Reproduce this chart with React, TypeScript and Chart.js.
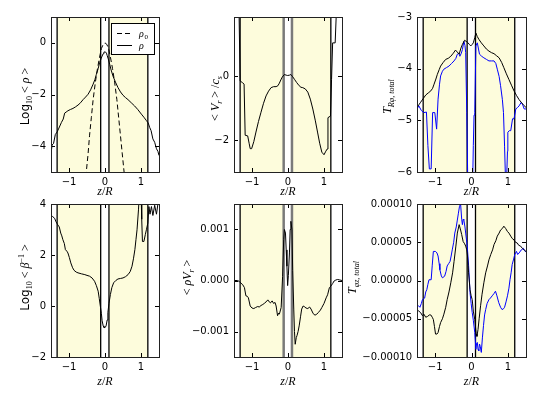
import React, { useEffect, useRef } from "react";
import { Chart, registerables } from "chart.js";
Chart.register(...registerables);

// ---------- data ----------
const X_TICKS = [-1, 0, 1];
const SHADE_BANDS = [[-1.33, -0.12], [0.11, 1.19]];
const V_LINES = [-1.33, -0.12, 0.11, 1.19];

const RHO: number[][] = [[-1.5,-4.3],[-1.47,-3.95],[-1.43,-3.9],[-1.38,-3.55],[-1.33,-3.45],[-1.28,-3.3],[-1.21,-3.08],[-1.16,-2.95],[-1.12,-2.72],[-1.08,-2.68],[-1.03,-2.63],[-0.96,-2.58],[-0.89,-2.54],[-0.82,-2.48],[-0.75,-2.41],[-0.68,-2.32],[-0.61,-2.2],[-0.54,-2.1],[-0.47,-1.99],[-0.4,-1.82],[-0.33,-1.6],[-0.28,-1.42],[-0.24,-1.22],[-0.19,-1.0],[-0.15,-0.77],[-0.11,-0.62],[-0.08,-0.51],[-0.05,-0.42],[-0.03,-0.36],[0.01,-0.35],[0.04,-0.4],[0.06,-0.49],[0.09,-0.62],[0.13,-0.83],[0.17,-1.05],[0.22,-1.28],[0.29,-1.52],[0.36,-1.73],[0.43,-1.9],[0.5,-2.03],[0.57,-2.12],[0.64,-2.2],[0.73,-2.32],[0.82,-2.44],[0.91,-2.58],[1.01,-2.76],[1.08,-2.88],[1.15,-3.01],[1.2,-3.1],[1.24,-3.27],[1.28,-3.4],[1.33,-3.72],[1.38,-3.85],[1.43,-4.1],[1.47,-4.2],[1.5,-4.36]];
const RHO0: number[][] = [[-0.55,-5.5],[-0.52,-5],[-0.47,-4.3],[-0.43,-3.6],[-0.38,-2.9],[-0.33,-2.2],[-0.27,-1.55],[-0.21,-1.0],[-0.15,-0.55],[-0.1,-0.22],[-0.05,-0.06],[0,0],[0.05,-0.06],[0.1,-0.22],[0.15,-0.55],[0.21,-1.0],[0.27,-1.55],[0.33,-2.2],[0.38,-2.9],[0.43,-3.6],[0.48,-4.3],[0.53,-5],[0.56,-5.5]];

const VR: number[][] = [[-1.5,4],[-1.36,2.0],[-1.33,-0.15],[-1.27,-0.2],[-1.22,-0.25],[-1.19,-1.85],[-1.12,-1.87],[-1.08,-2.1],[-1.05,-2.27],[-1.01,-2.27],[-0.95,-2.05],[-0.89,-1.75],[-0.82,-1.42],[-0.75,-1.13],[-0.68,-0.85],[-0.61,-0.62],[-0.54,-0.47],[-0.47,-0.36],[-0.4,-0.33],[-0.33,-0.33],[-0.28,-0.3],[-0.24,-0.22],[-0.2,-0.12],[-0.16,-0.03],[-0.1,0.05],[-0.05,0.03],[-0.01,0.02],[0.04,0.03],[0.08,0.05],[0.13,-0.02],[0.18,-0.1],[0.24,-0.2],[0.31,-0.3],[0.36,-0.35],[0.41,-0.36],[0.48,-0.4],[0.55,-0.5],[0.62,-0.72],[0.69,-1.03],[0.76,-1.4],[0.82,-1.75],[0.88,-2.1],[0.94,-2.38],[1.0,-2.46],[1.05,-2.35],[1.09,-2.28],[1.11,-1.3],[1.18,-1.25],[1.21,-0.1],[1.24,1.04],[1.31,1.04],[1.34,1.9],[1.38,4]];

const TR_TOTAL: number[][] = [[-1.5,-4.75],[-1.45,-4.7],[-1.4,-4.65],[-1.33,-4.58],[-1.26,-4.51],[-1.19,-4.47],[-1.12,-4.43],[-1.07,-4.38],[-1.03,-4.3],[-0.98,-4.2],[-0.94,-4.11],[-0.89,-4.02],[-0.85,-3.95],[-0.78,-3.88],[-0.71,-3.82],[-0.64,-3.8],[-0.57,-3.76],[-0.5,-3.7],[-0.44,-3.64],[-0.39,-3.68],[-0.34,-3.72],[-0.29,-3.6],[-0.25,-3.53],[-0.19,-3.45],[-0.15,-3.47],[-0.11,-3.49],[-0.06,-3.53],[-0.02,-3.56],[0.02,-3.53],[0.05,-3.5],[0.09,-3.4],[0.12,-3.31],[0.16,-3.38],[0.21,-3.44],[0.27,-3.5],[0.34,-3.56],[0.41,-3.62],[0.48,-3.66],[0.55,-3.69],[0.62,-3.71],[0.69,-3.75],[0.76,-3.79],[0.83,-3.88],[0.89,-3.98],[0.96,-4.1],[1.03,-4.21],[1.1,-4.32],[1.17,-4.43],[1.24,-4.52],[1.31,-4.6],[1.38,-4.66],[1.44,-4.71],[1.5,-4.75]];
const TR_BLUE: number[][] = [[-1.5,-4.78],[-1.45,-4.72],[-1.38,-4.81],[-1.31,-4.85],[-1.24,-4.84],[-1.2,-5.49],[-1.16,-5.94],[-1.11,-5.94],[-1.07,-4.85],[-1.01,-4.85],[-0.96,-5.17],[-0.92,-4.59],[-0.88,-4.3],[-0.85,-4.14],[-0.8,-4.05],[-0.76,-4.01],[-0.69,-3.98],[-0.62,-3.95],[-0.55,-3.9],[-0.48,-3.85],[-0.43,-3.8],[-0.39,-3.72],[-0.35,-3.7],[-0.32,-3.76],[-0.28,-3.7],[-0.25,-3.63],[-0.21,-3.47],[-0.18,-3.55],[-0.16,-3.69],[-0.13,-4.85],[-0.1,-6.3],[-0.05,-6.5],[0,-6.5],[0.03,-6.3],[0.05,-5.49],[0.07,-4.9],[0.09,-4.85],[0.12,-3.56],[0.16,-3.5],[0.22,-3.72],[0.28,-3.76],[0.34,-3.79],[0.41,-3.82],[0.48,-3.85],[0.55,-3.85],[0.62,-3.85],[0.67,-3.9],[0.71,-4.01],[0.76,-4.15],[0.8,-4.33],[0.85,-4.6],[0.88,-4.85],[0.91,-5.5],[0.93,-6],[0.96,-6.3],[0.99,-5.6],[1.0,-5.23],[1.04,-5.2],[1.08,-5.2],[1.13,-4.97],[1.17,-4.97],[1.22,-4.78],[1.27,-4.75],[1.31,-4.72],[1.37,-4.65],[1.41,-4.7],[1.45,-4.78],[1.5,-4.78]];

const BETA: number[][] = [[-1.5,3.57],[-1.45,3.5],[-1.4,3.44],[-1.36,3.3],[-1.31,3.18],[-1.27,3.1],[-1.23,2.86],[-1.2,2.75],[-1.17,2.6],[-1.13,2.45],[-1.1,2.21],[-1.06,2.15],[-1.03,2.08],[-0.99,1.9],[-0.95,1.69],[-0.9,1.5],[-0.86,1.4],[-0.8,1.33],[-0.75,1.3],[-0.65,1.26],[-0.56,1.23],[-0.5,1.2],[-0.43,1.17],[-0.36,1.1],[-0.29,0.97],[-0.24,0.8],[-0.19,0.58],[-0.16,0.3],[-0.13,0.0],[-0.1,-0.3],[-0.08,-0.58],[-0.05,-0.78],[-0.03,-0.84],[0.0,-0.85],[0.03,-0.78],[0.06,-0.55],[0.08,-0.26],[0.11,0.1],[0.15,0.45],[0.19,0.72],[0.24,0.91],[0.3,1.0],[0.36,1.06],[0.43,1.08],[0.5,1.1],[0.57,1.15],[0.64,1.23],[0.7,1.35],[0.75,1.56],[0.79,1.85],[0.83,2.21],[0.86,2.6],[0.89,2.99],[0.93,3.77],[0.95,4.3],[1.0,4.5],[1.02,3.4],[1.04,2.53],[1.08,2.53],[1.12,2.8],[1.15,2.99],[1.19,3.25],[1.22,3.9],[1.25,3.6],[1.29,3.9],[1.33,3.55],[1.38,3.95],[1.43,3.6],[1.47,4.0],[1.5,4.3]];

const RHOVR: number[][] = [[-1.5,0.0],[-1.4,0.0],[-1.35,-0.00002],[-1.31,-0.00005],[-1.26,-0.00008],[-1.21,-0.00014],[-1.17,-0.0003],[-1.13,-0.00031],[-1.1,-0.00034],[-1.05,-0.0005],[-1.0,-0.00054],[-0.95,-0.00055],[-0.9,-0.00053],[-0.84,-0.00051],[-0.8,-0.00052],[-0.75,-0.00049],[-0.7,-0.00047],[-0.66,-0.00045],[-0.61,-0.00042],[-0.56,-0.00038],[-0.52,-0.00042],[-0.49,-0.00044],[-0.44,-0.0004],[-0.4,-0.00045],[-0.36,-0.00043],[-0.33,-0.0005],[-0.29,-0.00069],[-0.26,-0.00064],[-0.24,-0.00066],[-0.19,-0.00053],[-0.15,0.00008],[-0.12,0.0008],[-0.1,0.001],[-0.07,0.00093],[-0.05,0.0006],[-0.03,0.00028],[-0.01,-0.0001],[0.01,0.0001],[0.04,0.00054],[0.06,0.001],[0.08,0.00116],[0.11,0.001],[0.13,0.0002],[0.16,-0.00056],[0.18,-0.001],[0.2,-0.00125],[0.23,-0.00112],[0.25,-0.00108],[0.28,-0.001],[0.31,-0.00089],[0.35,-0.0007],[0.38,-0.00056],[0.42,-0.0005],[0.45,-0.00051],[0.5,-0.00054],[0.55,-0.00055],[0.6,-0.00052],[0.64,-0.00056],[0.7,-0.00065],[0.75,-0.00068],[0.8,-0.00066],[0.84,-0.00063],[0.9,-0.00058],[0.94,-0.00053],[1.0,-0.00045],[1.06,-0.00034],[1.1,-0.00028],[1.15,-0.00014],[1.19,-0.00011],[1.24,-0.00006],[1.28,-0.00001],[1.33,0.00001],[1.38,0.00002],[1.44,0.00001],[1.5,0.0]];

const TPZ_TOTAL: number[][] = [[-1.5,-0.000038],[-1.45,-0.00004],[-1.4,-0.000042],[-1.35,-0.000046],[-1.31,-0.000044],[-1.26,-0.000048],[-1.21,-0.000047],[-1.16,-0.000045],[-1.12,-0.000045],[-1.08,-0.000048],[-1.05,-0.000051],[-1.02,-0.00006],[-0.99,-0.00007],[-0.95,-0.00007],[-0.92,-0.000068],[-0.88,-0.00006],[-0.85,-0.000055],[-0.8,-0.00005],[-0.76,-0.000044],[-0.71,-0.000035],[-0.67,-0.000025],[-0.62,-0.000015],[-0.57,-0.000003],[-0.52,0.00001],[-0.48,0.000025],[-0.43,0.000045],[-0.39,0.000062],[-0.34,0.000073],[-0.3,0.000066],[-0.27,0.00006],[-0.23,0.000051],[-0.19,0.000048],[-0.16,0.000045],[-0.13,0.00004],[-0.11,0.000032],[-0.08,0.00001],[-0.04,-0.000012],[-0.01,-0.00002],[0.02,-0.000025],[0.05,-0.00004],[0.09,-0.000051],[0.13,-0.00007],[0.15,-0.000073],[0.18,-0.000064],[0.21,-0.00005],[0.25,-0.000033],[0.29,-0.000018],[0.34,-0.000003],[0.39,0.00001],[0.44,0.000019],[0.48,0.000027],[0.53,0.000034],[0.58,0.00004],[0.62,0.000047],[0.67,0.000052],[0.71,0.000058],[0.76,0.000062],[0.8,0.000066],[0.85,0.000068],[0.89,0.000071],[0.94,0.000068],[0.99,0.000064],[1.03,0.000062],[1.08,0.000058],[1.12,0.000055],[1.17,0.000053],[1.21,0.00005],[1.26,0.000049],[1.3,0.000046],[1.35,0.000045],[1.4,0.000042],[1.45,0.00004],[1.5,0.000038]];
const TPZ_BLUE: number[][] = [[-1.5,-0.000032],[-1.46,-0.000033],[-1.42,-0.000035],[-1.38,-0.00003],[-1.35,-0.000025],[-1.29,-0.000023],[-1.26,-0.000015],[-1.23,-0.000012],[-1.2,-0.000005],[-1.17,0.000001],[-1.11,0.000001],[-1.08,0.00002],[-1.05,0.000038],[-0.99,0.000038],[-0.95,0.000036],[-0.92,0.000032],[-0.89,0.000022],[-0.87,0.000014],[-0.83,0.000006],[-0.8,0.0000035],[-0.74,0.0000056],[-0.7,0.000012],[-0.67,0.000019],[-0.63,0.000022],[-0.59,0.000025],[-0.56,0.000032],[-0.53,0.00004],[-0.49,0.00005],[-0.46,0.000062],[-0.42,0.00007],[-0.39,0.000079],[-0.36,0.000088],[-0.33,0.000097],[-0.3,0.0001],[-0.27,0.00008],[-0.25,0.000073],[-0.23,0.00008],[-0.21,0.000079],[-0.18,0.00007],[-0.16,0.000062],[-0.13,0.00005],[-0.11,0.00004],[-0.08,0.00002],[-0.04,-0.000016],[-0.01,-0.00003],[0.02,-0.000042],[0.05,-0.000052],[0.09,-0.000068],[0.12,-0.00009],[0.14,-0.000082],[0.16,-0.000081],[0.18,-0.00009],[0.2,-0.000092],[0.22,-0.000083],[0.24,-0.000086],[0.27,-0.000094],[0.3,-0.000075],[0.33,-0.000059],[0.36,-0.000045],[0.39,-0.000038],[0.43,-0.00003],[0.48,-0.000025],[0.52,-0.000023],[0.57,-0.00002],[0.62,-0.000017],[0.66,-0.000014],[0.7,-0.00002],[0.75,-0.000029],[0.8,-0.000035],[0.84,-0.000038],[0.88,-0.000037],[0.91,-0.000035],[0.95,-0.000028],[0.99,-0.00002],[1.03,-0.00001],[1.06,0.000001],[1.09,0.00001],[1.12,0.000021],[1.16,0.000028],[1.19,0.000034],[1.24,0.000038],[1.27,0.000034],[1.31,0.000036],[1.37,0.00004],[1.43,0.000042],[1.46,0.000039],[1.5,0.000037]];

const Y_TICKS_RHO = [0, -2, -4];
const Y_TICKS_VR = [0, -2];
const Y_TICKS_TR = [-3, -4, -5, -6];
const Y_TICKS_BETA = [4, 2, 0, -2];
const Y_TICKS_RHOVR = [0.001, 0, -0.001];
const Y_TICKS_TPZ = [0.0001, 0.00005, 0, -0.00005, -0.0001];

// ---------- styling ----------
const SHADE_COLOR = "#fdfcdc";
const SANS = '"DejaVu Sans"';
const SERIF = '"Liberation Serif"';
const fIt = (s: number) => `italic ${s}px ${SERIF}`;
const fRm = (s: number) => `${s}px ${SERIF}`;
const fSans = (s: number) => `${s}px ${SANS}`;

type Seg = { t: string; f: string; dy?: number };

const fmt = (v: number, d: number) => {
  const s = Math.abs(v) < 1e-12 ? (0).toFixed(d) : v.toFixed(d);
  return s.replace("-", "\u2212");
};

function drawRich(ctx: CanvasRenderingContext2D, segs: Seg[], cx: number, cy: number, rot: boolean) {
  ctx.save();
  ctx.translate(cx, cy);
  if (rot) ctx.rotate(-Math.PI / 2);
  let total = 0;
  const ws = segs.map((s) => {
    ctx.font = s.f;
    const w = ctx.measureText(s.t).width;
    total += w;
    return w;
  });
  let x = -total / 2;
  ctx.textAlign = "left";
  ctx.textBaseline = "alphabetic";
  ctx.fillStyle = "#000";
  segs.forEach((s, i) => {
    ctx.font = s.f;
    ctx.fillText(s.t, x, 4 + (s.dy || 0));
    x += ws[i];
  });
  ctx.restore();
}

type Series = { label: string; pts: number[][]; color: string; dash?: number[] };
type Panel = {
  left: number; top: number; w: number; h: number;
  yMin: number; yMax: number; yTicks: number[]; yDec: number;
  series: Series[];
  ylabel: Seg[]; ylabelX: number; ylabelDy: number; xlabelDy: number;
  greyInner?: boolean; legend?: boolean;
};

const L = 80, T = 10, R = 10, B = 40;

const XLABEL: Seg[] = [
  { t: "z", f: fIt(12) },
  { t: "/", f: fRm(12) },
  { t: "R", f: fIt(12) },
];

const PANELS: Panel[] = [
  {
    left: 51, top: 16, w: 108, h: 156, yMin: -5, yMax: 1, yTicks: Y_TICKS_RHO, yDec: 0,
    series: [
      { label: "ρ0", pts: RHO0, color: "#000", dash: [5, 3] },
      { label: "ρ", pts: RHO, color: "#000" },
    ],
    ylabel: [
      { t: "Log", f: fSans(12) },
      { t: "10", f: fRm(8), dy: 3 },
      { t: " < ", f: fRm(12) },
      { t: "ρ", f: fIt(12) },
      { t: " >", f: fRm(12) },
    ],
    ylabelX: 25, ylabelDy: 2, xlabelDy: 19, legend: true,
  },
  {
    left: 234, top: 16, w: 108, h: 156, yMin: -3, yMax: 1.85, yTicks: Y_TICKS_VR, yDec: 0,
    series: [{ label: "Vr", pts: VR, color: "#000" }],
    ylabel: [
      { t: "< ", f: fRm(12) },
      { t: "V", f: fIt(12) },
      { t: "r", f: fIt(8), dy: 3 },
      { t: " > /", f: fRm(12) },
      { t: "c", f: fIt(12) },
      { t: "s", f: fIt(8), dy: 3 },
    ],
    ylabelX: 215, ylabelDy: 4, xlabelDy: 19, greyInner: true,
  },
  {
    left: 417, top: 16, w: 109, h: 156, yMin: -6, yMax: -3, yTicks: Y_TICKS_TR, yDec: 0,
    series: [
      { label: "total", pts: TR_TOTAL, color: "#000" },
      { label: "part", pts: TR_BLUE, color: "#0000ff" },
    ],
    ylabel: [
      { t: "T", f: fIt(12) },
      { t: "Rφ, total", f: fIt(8), dy: 3 },
    ],
    ylabelX: 387, ylabelDy: 2, xlabelDy: 19,
  },
  {
    left: 51, top: 203, w: 108, h: 154, yMin: -2, yMax: 4, yTicks: Y_TICKS_BETA, yDec: 0,
    series: [{ label: "beta", pts: BETA, color: "#000" }],
    ylabel: [
      { t: "Log", f: fSans(12) },
      { t: "10", f: fRm(8), dy: 3 },
      { t: " < ", f: fRm(12) },
      { t: "β", f: fIt(12) },
      { t: "−1", f: fRm(8), dy: -5 },
      { t: " >", f: fRm(12) },
    ],
    ylabelX: 25, ylabelDy: -3, xlabelDy: 24,
  },
  {
    left: 234, top: 203, w: 108, h: 154, yMin: -0.0015, yMax: 0.0015, yTicks: Y_TICKS_RHOVR, yDec: 3,
    series: [{ label: "rhoVr", pts: RHOVR, color: "#000" }],
    ylabel: [
      { t: "< ", f: fRm(12) },
      { t: "ρV", f: fIt(12) },
      { t: "r", f: fIt(8), dy: 3 },
      { t: " >", f: fRm(12) },
    ],
    ylabelX: 187, ylabelDy: -3, xlabelDy: 24, greyInner: true,
  },
  {
    left: 417, top: 203, w: 109, h: 154, yMin: -0.0001, yMax: 0.0001, yTicks: Y_TICKS_TPZ, yDec: 5,
    series: [
      { label: "total", pts: TPZ_TOTAL, color: "#000" },
      { label: "part", pts: TPZ_BLUE, color: "#0000ff" },
    ],
    ylabel: [
      { t: "T", f: fIt(12) },
      { t: "φz, total", f: fIt(8), dy: 3 },
    ],
    ylabelX: 352, ylabelDy: -3, xlabelDy: 24,
  },
];

function makePlugin(p: Panel) {
  const canvasLeft = p.left - L;
  return {
    id: "panelDeco",
    beforeDatasetsDraw(chart: any) {
      const { ctx, chartArea: ca, scales } = chart;
      const x = scales.x;
      ctx.save();
      ctx.fillStyle = SHADE_COLOR;
      for (const [a, b] of SHADE_BANDS) {
        const x1 = x.getPixelForValue(a);
        const x2 = x.getPixelForValue(b);
        ctx.fillRect(x1, ca.top, x2 - x1, ca.bottom - ca.top);
      }
      V_LINES.forEach((v, i) => {
        const inner = i === 1 || i === 2;
        const grey = p.greyInner && inner;
        ctx.strokeStyle = grey ? "#7a7a7a" : "#000";
        ctx.lineWidth = grey ? 2.5 : 1.3;
        const px = x.getPixelForValue(v);
        ctx.beginPath();
        ctx.moveTo(px, ca.top);
        ctx.lineTo(px, ca.bottom);
        ctx.stroke();
      });
      ctx.restore();
    },
    afterDraw(chart: any) {
      const { ctx, chartArea: ca, scales } = chart;
      const x = scales.x, y = scales.y;
      ctx.save();
      ctx.strokeStyle = "#000";
      ctx.lineWidth = 1;
      ctx.beginPath();
      for (const v of X_TICKS) {
        const px = Math.round(x.getPixelForValue(v)) + 0.5;
        ctx.moveTo(px, ca.bottom);
        ctx.lineTo(px, ca.bottom - 4);
        ctx.moveTo(px, ca.top);
        ctx.lineTo(px, ca.top + 4);
      }
      for (const v of p.yTicks) {
        const py = Math.round(y.getPixelForValue(v)) + 0.5;
        ctx.moveTo(ca.left, py);
        ctx.lineTo(ca.left + 4, py);
        ctx.moveTo(ca.right, py);
        ctx.lineTo(ca.right - 4, py);
      }
      ctx.stroke();
      ctx.strokeStyle = "#222";
      ctx.lineWidth = 1;
      ctx.strokeRect(Math.round(ca.left) + 0.5, Math.round(ca.top) + 0.5, Math.round(ca.right - ca.left), Math.round(ca.bottom - ca.top));
      drawRich(ctx, XLABEL, (ca.left + ca.right) / 2, ca.bottom + p.xlabelDy, false);
      drawRich(ctx, p.ylabel, p.ylabelX - canvasLeft, (ca.top + ca.bottom) / 2 + p.ylabelDy, true);
      if (p.legend) {
        const x0 = ca.right - 48, y0 = ca.top + 6, w = 43, h = 31;
        ctx.fillStyle = "#fff";
        ctx.fillRect(x0, y0, w, h);
        ctx.strokeStyle = "#000";
        ctx.strokeRect(Math.round(x0) + 0.5, Math.round(y0) + 0.5, w, h);
        p.series.forEach((s, i) => {
          const ly = Math.round(y0 + 10 + i * 12) + 0.5;
          ctx.beginPath();
          ctx.setLineDash(s.dash || []);
          ctx.strokeStyle = s.color;
          ctx.moveTo(x0 + 6, ly);
          ctx.lineTo(x0 + 21, ly);
          ctx.stroke();
          ctx.setLineDash([]);
          ctx.fillStyle = "#000";
          ctx.textAlign = "left";
          ctx.textBaseline = "alphabetic";
          ctx.font = fIt(10);
          ctx.fillText("ρ", x0 + 28, ly + 3);
          if (s.label === "ρ0") {
            ctx.font = fRm(7);
            ctx.fillText("0", x0 + 33.5, ly + 5);
          }
        });
      }
      ctx.restore();
    },
  };
}

function PanelChart({ p }: { p: Panel }) {
  const ref = useRef<HTMLCanvasElement | null>(null);
  const W = p.w + L + R;
  const H = p.h + T + B;
  useEffect(() => {
    if (!ref.current) return;
    const tickFont = { family: "DejaVu Sans", size: 10 };
    const chart = new Chart(ref.current, {
      type: "line",
      data: {
        datasets: p.series.map((s) => ({
          label: s.label,
          data: s.pts.map(([xv, yv]) => ({ x: xv, y: yv })),
          borderColor: s.color,
          borderWidth: 1,
          borderDash: s.dash || [],
          pointRadius: 0,
          fill: false,
          tension: 0,
        })),
      },
      options: {
        animation: false,
        responsive: false,
        devicePixelRatio: 1,
        events: [],
        layout: { padding: { top: T, right: R, left: 0, bottom: 0 } },
        plugins: { legend: { display: false }, tooltip: { enabled: false } },
        scales: {
          x: {
            type: "linear",
            min: -1.5,
            max: 1.5,
            afterBuildTicks: (s: any) => {
              s.ticks = X_TICKS.map((v) => ({ value: v }));
            },
            afterFit: (s: any) => {
              s.height = B;
            },
            grid: { display: false, drawTicks: false },
            border: { display: false },
            ticks: {
              autoSkip: false,
              maxRotation: 0,
              padding: 4,
              color: "#000",
              font: tickFont,
              callback: (v: any) => fmt(Number(v), 0),
            },
          },
          y: {
            type: "linear",
            min: p.yMin,
            max: p.yMax,
            afterBuildTicks: (s: any) => {
              s.ticks = p.yTicks.map((v) => ({ value: v }));
            },
            afterFit: (s: any) => {
              s.width = L;
            },
            grid: { display: false, drawTicks: false },
            border: { display: false },
            ticks: {
              autoSkip: false,
              padding: 5,
              color: "#000",
              font: tickFont,
              callback: (v: any) => fmt(Number(v), p.yDec),
            },
          },
        },
      } as any,
      plugins: [makePlugin(p)],
    });
    return () => chart.destroy();
  }, []);
  return (
    <canvas
      ref={ref}
      width={W}
      height={H}
      style={{ position: "absolute", left: p.left - L, top: p.top - T, width: W, height: H }}
    />
  );
}

export default function App() {
  return (
    <div
      style={{
        position: "fixed",
        left: 0,
        top: 0,
        width: 538,
        height: 396,
        background: "#fff",
        overflow: "hidden",
      }}
    >
      {PANELS.map((p, i) => (
        <PanelChart key={i} p={p} />
      ))}
    </div>
  );
}
